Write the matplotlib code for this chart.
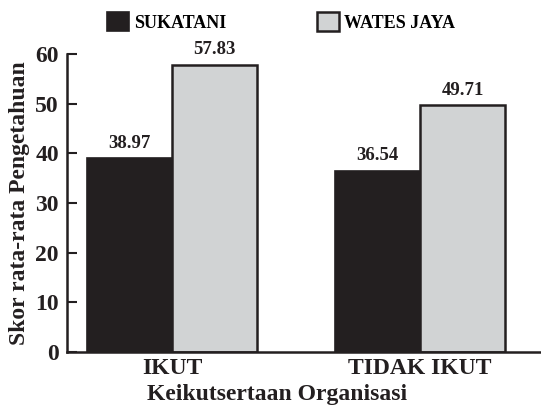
import numpy as np
import matplotlib
matplotlib.use("Agg")
import matplotlib.pyplot as plt

categories = ["IKUT", "TIDAK IKUT"]
sukatani = [38.97, 36.54]
wates_jaya = [57.83, 49.71]
yticks = [0, 10, 20, 30, 40, 50, 60]

plt.rcParams['font.family'] = ['Liberation Serif', 'DejaVu Serif']
plt.rcParams['font.weight'] = 'bold'

fig = plt.figure(figsize=(5.41, 4.12), dpi=100)
ax = fig.add_axes([0.124, 0.1456, 0.876, 0.7234])

x = np.arange(len(categories))
w = 0.343
b1 = ax.bar(x - w / 2, sukatani, w, color='#231f20', edgecolor='#231f20', linewidth=1.2, label='SUKATANI')
b2 = ax.bar(x + w / 2, wates_jaya, w, color='#d1d3d4', edgecolor='#231f20', linewidth=1.8, label='WATES JAYA')

for bars, vals in [(b1, sukatani), (b2, wates_jaya)]:
    for r, v in zip(bars, vals):
        ax.text(r.get_x() + r.get_width() / 2, v + 1.3, f"{v:.2f}", ha='center', va='bottom',
                fontsize=13.5, fontweight='bold', color='#231f20')

ax.set_ylim(0, 60)
ax.set_xlim(-0.423, 1.488)
ax.set_yticks(yticks)
ax.set_xticks(x)
ax.set_xticklabels(categories)
ax.tick_params(axis='y', direction='in', length=7, width=1.5, labelsize=17, pad=6, colors='#231f20')
ax.tick_params(axis='x', length=0, labelsize=17, pad=4, colors='#231f20')
for s in ['top', 'right']:
    ax.spines[s].set_visible(False)
for s in ['left', 'bottom']:
    ax.spines[s].set_linewidth(1.8)
    ax.spines[s].set_color('#231f20')

ax.set_xlabel('Keikutsertaan Organisasi', fontsize=17, fontweight='bold', color='#231f20')
ax.xaxis.set_label_coords(0.443, -0.108)
ax.set_ylabel('Skor rata-rata Pengetahuan', fontsize=17, fontweight='bold', color='#231f20', labelpad=4)

fig.legend(handles=[b1, b2], loc='center', bbox_to_anchor=(0.52, 0.947), ncol=2, frameon=False,
           handlelength=1.2, handleheight=1.2, columnspacing=5, handletextpad=0.3,
           prop={'weight': 'bold', 'size': 13})

fig.savefig('out.png', dpi=100)
